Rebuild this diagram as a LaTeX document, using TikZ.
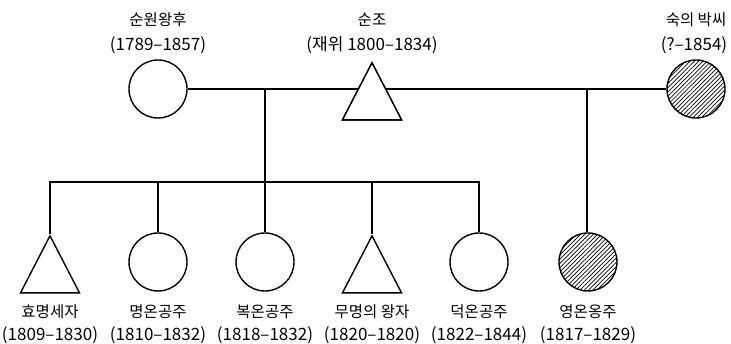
\documentclass[tikz,border=0pt]{standalone}
\usepackage{fontspec}
\setmainfont{Noto Sans CJK KR}
\usetikzlibrary{shapes.geometric,patterns.meta}

\tikzset{
  line/.style={line width=1.8pt},
  person/.style={draw, line width=1.4pt, fill=white, inner sep=0pt},
  female/.style={person, circle, minimum size=58pt},
  male/.style={person, isosceles triangle, shape border rotate=90,
    isosceles triangle stretches=true, minimum width=59pt, minimum height=57pt},
  hatched/.style={postaction={pattern={Lines[angle=45,distance=3pt,line width=0.7pt]}}},
  nametext/.style={inner sep=0pt, font=\fontsize{15.5pt}{16pt}\selectfont},
  yeartext/.style={inner sep=0pt, font=\fontsize{17pt}{18pt}\selectfont},
}

\begin{document}
\begin{tikzpicture}[x=1pt,y=-1pt]
\useasboundingbox (0,0) rectangle (731,344);

% connection points on the marriage line and the sibling bar
\coordinate (wed) at (265,89);
\coordinate (wed2) at (587,89);
\coordinate (bar) at (265,182);

% parents
\node[female] (queen) at (158,89) {};
\node[male, anchor=apex] (king) at (372,61) {};
\node[female, hatched] (consort) at (696,89) {};

% children
\node[male, anchor=apex] (hyo) at (50,234) {};
\node[female] (myeong) at (158,262) {};
\node[female] (bok) at (265,262) {};
\node[male, anchor=apex] (prince) at (372,234) {};
\node[female] (deok) at (479,262) {};
\node[female, hatched] (yeong) at (588,262) {};

% connectors
\draw[line] (queen.east) -- (consort.west);
\draw[line] (wed) -- (bar);
\draw[line] (hyo.apex) |- (bar) -| (deok.north);
\draw[line] (myeong.north) -- (myeong.north |- bar);
\draw[line] (bok.north) -- (bok.north |- bar);
\draw[line] (prince.apex) -- (prince.apex |- bar);
\draw[line] (yeong.north -| wed2) -- (wed2);

% the king's triangle again, over the marriage line
\node[male, anchor=apex] (kingtop) at (372,61) {};

% labels
\node[nametext] (queenN) at (158,19.5) {순원왕후};
\node[yeartext] (queenY) at (158,45) {(1789–1857)};
\node[nametext] (kingN) at (372,19.5) {순조};
\node[yeartext] (kingY) at (372,45) {(재위 1800–1834)};
\node[nametext] (consortN) at (696,19.5) {숙의 박씨};
\node[yeartext] (consortY) at (694,45) {(?–1854)};

\foreach \n/\x/\a/\b in {hyo/50/효명세자/(1809–1830), myeong/158/명온공주/(1810–1832),
  bok/265/복온공주/(1818–1832), prince/372/무명의 왕자/(1820–1820),
  deok/479/덕온공주/(1822–1844), yeong/588/영온옹주/(1817–1829)}{
  \node[nametext] (\n N) at (\x,312) {\a};
  \node[yeartext] (\n Y) at (\x,335) {\b};
}
\end{tikzpicture}
\end{document}
